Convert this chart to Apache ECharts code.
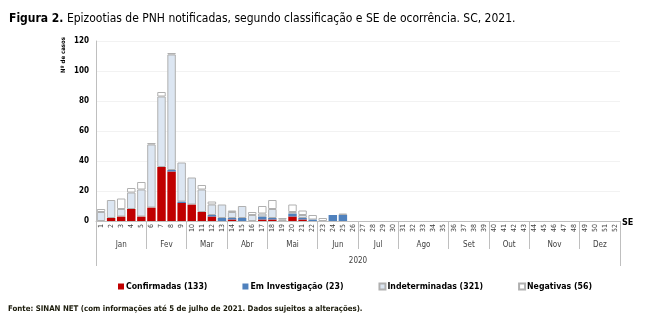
<!DOCTYPE html>
<html>
<head>
<meta charset="utf-8">
<script src="https://cdn.jsdelivr.net/npm/echarts@6/dist/echarts.min.js"></script>
<style>
  html, body { margin: 0; padding: 0; background: #fff; }
  #chart { width: 652px; height: 336px; }
</style>
</head>
<body>
<div id="chart"></div>
<script>
// Epizootias de PNH por semana epidemiológica (SE) e classificação – SC
const weeks = Array.from({ length: 52 }, (_, i) => String(i + 1));

// Casos por SE (1..26); SE 27..52 sem registros
const confirmadas = [0, 2, 3, 8, 3, 9, 36, 33, 12, 11, 6, 3, 0, 1, 0, 0, 1, 1, 0, 3, 1, 0, 0, 0, 0, 0];
const emInvestigacao = [0, 0, 0, 0, 0, 0, 0, 1, 1, 0, 0, 1, 2, 1, 2, 0, 2, 1, 0, 2, 1, 1, 0, 4, 4, 0];
const indeterminadas = [6, 12, 5, 11, 18, 42, 47, 77, 26, 18, 15, 7, 9, 4, 8, 4, 2, 6, 1, 1, 2, 0, 0, 0, 0, 0];
const negativas = [2, 0, 7, 3, 5, 1, 3, 1, 0, 0, 3, 2, 0, 1, 0, 2, 5, 6, 1, 5, 3, 3, 2, 0, 1, 0];

const seriesNames = ['Confirmadas (133)', 'Em Investigação (23)', 'Indeterminadas (321)', 'Negativas (56)'];

// Meses e última SE de cada mês
const months = ['Jan', 'Fev', 'Mar', 'Abr', 'Mai', 'Jun', 'Jul', 'Ago', 'Set', 'Out', 'Nov', 'Dez'];
const monthLastWeek = [5, 9, 13, 17, 22, 26, 30, 35, 39, 43, 48, 52];
const yearLabel = '2020';

const yTicks = [0, 20, 40, 60, 80, 100, 120];

const FONT = "'Liberation Sans Narrow', 'DejaVu Sans Condensed', 'Liberation Sans', sans-serif";

// Semanas sem casos não desenham barra
const toSeries = arr => weeks.map((_, i) => (arr[i] ? arr[i] : null));

// Posições das divisões e dos rótulos de mês no eixo auxiliar (0..52)
const monthBounds = monthLastWeek.slice(0, -1);
const monthCenters = monthLastWeek.map((end, i) => ((i === 0 ? 0 : monthLastWeek[i - 1]) + end) / 2);
const monthByCenter = {};
monthCenters.forEach((c, i) => { monthByCenter[c] = months[i]; });

const chart = echarts.init(document.getElementById('chart'), null, { renderer: 'canvas' });

const barStyle = (color, border) => ({
  color: color,
  borderColor: border,
  borderWidth: border ? 1 : 0
});

chart.setOption({
  animation: false,
  backgroundColor: '#fff',
  textStyle: { fontFamily: FONT },
  title: {
    left: 4,
    top: 8,
    text: '{b|Figura 2.} Epizootias de PNH notificadas, segundo classificação e SE de ocorrência. SC, 2021.',
    textStyle: {
      fontFamily: FONT,
      fontSize: 12,
      fontWeight: 'normal',
      color: '#000',
      rich: { b: { fontFamily: FONT, fontSize: 12, fontWeight: 'bold', color: '#000' } }
    }
  },
  legend: {
    left: 113,
    top: 277,
    itemWidth: 6,
    itemHeight: 6,
    itemGap: 35,
    icon: 'rect',
    textStyle: { fontFamily: FONT, fontSize: 8.7, fontWeight: 'bold', color: '#000', padding: [0, 0, 0, -3] },
    data: seriesNames
  },
  grid: { left: 96, right: 32, top: 41, bottom: 115, containLabel: false },
  xAxis: [
    {
      type: 'category',
      data: weeks,
      axisLine: { lineStyle: { color: '#BFBFBF', width: 1 } },
      axisTick: { show: false },
      axisLabel: { interval: 0, rotate: 90, fontSize: 7, color: '#404040', margin: 3 },
      name: 'SE',
      nameLocation: 'end',
      nameGap: 2,
      nameTextStyle: { fontFamily: FONT, fontSize: 9, fontWeight: 'bold', color: '#000', verticalAlign: 'top', lineHeight: 4 }
    },
    {
      type: 'value',
      min: 0,
      max: 52,
      position: 'bottom',
      axisLine: { show: false },
      splitLine: { show: false },
      axisTick: { show: true, customValues: monthBounds, length: 28, lineStyle: { color: '#BFBFBF' } },
      axisLabel: {
        customValues: monthCenters,
        formatter: v => monthByCenter[v] || '',
        fontSize: 8,
        color: '#404040',
        margin: 20
      }
    },
    {
      type: 'value',
      min: 0,
      max: 52,
      position: 'bottom',
      axisLine: { show: false },
      splitLine: { show: false },
      axisTick: { show: true, customValues: [0, 52], length: 45, lineStyle: { color: '#BFBFBF' } },
      axisLabel: {
        customValues: [26],
        formatter: () => yearLabel,
        fontSize: 8,
        color: '#404040',
        margin: 36
      }
    }
  ],
  yAxis: {
    type: 'value',
    min: yTicks[0],
    max: yTicks[yTicks.length - 1],
    interval: yTicks[1] - yTicks[0],
    axisLine: { show: true, lineStyle: { color: '#BFBFBF' } },
    axisTick: { show: false },
    axisLabel: { fontSize: 8, fontWeight: 'bold', color: '#000', margin: 7 },
    splitLine: { lineStyle: { color: '#F2F2F2' } }
  },
  graphic: [
    {
      type: 'text',
      x: 63,
      y: 55,
      rotation: Math.PI / 2,
      style: {
        text: 'Nº de casos',
        fontFamily: FONT,
        fontSize: 6,
        fontWeight: 'bold',
        fill: '#000',
        align: 'center',
        verticalAlign: 'middle'
      }
    },
    {
      type: 'text',
      x: 8,
      y: 305,
      style: {
        text: 'Fonte: SINAN NET (com informações até 5 de julho de 2021. Dados sujeitos a alterações).',
        fontFamily: FONT,
        fontSize: 7.8,
        fontWeight: 'bold',
        fill: '#1a1a0a'
      }
    }
  ],
  series: [
    { name: seriesNames[0], type: 'bar', stack: 'total', xAxisIndex: 0, barCategoryGap: '16%', itemStyle: barStyle('#C00000', null), data: toSeries(confirmadas) },
    { name: seriesNames[1], type: 'bar', stack: 'total', xAxisIndex: 0, itemStyle: barStyle('#4F81BD', null), data: toSeries(emInvestigacao) },
    { name: seriesNames[2], type: 'bar', stack: 'total', xAxisIndex: 0, itemStyle: barStyle('#DCE6F2', '#B0B0B0'), data: toSeries(indeterminadas) },
    { name: seriesNames[3], type: 'bar', stack: 'total', xAxisIndex: 0, itemStyle: barStyle('#FFFFFF', '#B0B0B0'), data: toSeries(negativas) }
  ]
});
</script>
</body>
</html>
